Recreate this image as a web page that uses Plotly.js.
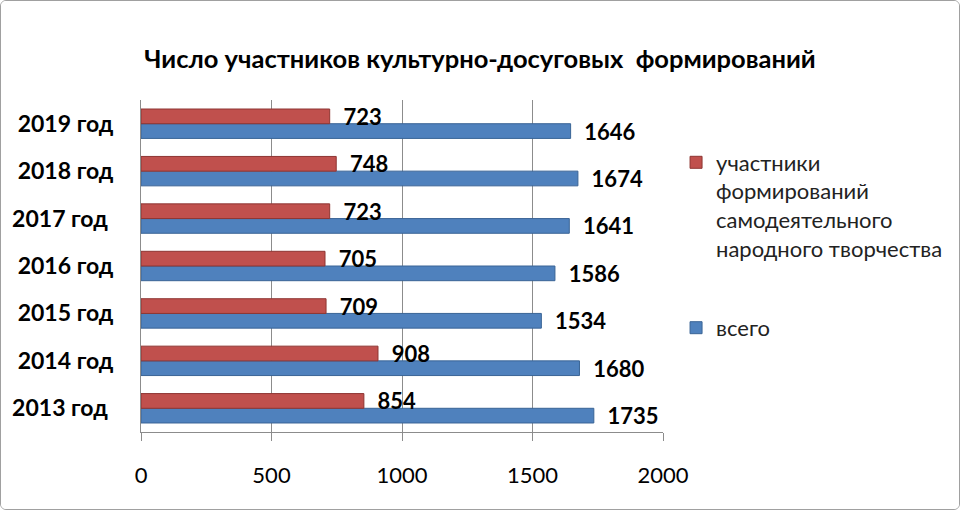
<!DOCTYPE html>
<html>
<head>
<meta charset="utf-8">
<script src="https://cdn.plot.ly/plotly-3.0.1.min.js"></script>
<style>
body { margin: 0; background: #fff; }
#chart { width: 960px; height: 510px; box-sizing: border-box; border: 1px solid #a0a0a0; border-radius: 6px; overflow: hidden; }
</style>
</head>
<body>
<div id="chart"></div>
<script>
var years = ['2013 год\u00a0', '2014 год', '2015 год', '2016 год', '2017 год\u00a0', '2018 год', '2019 год'];
var participants = [854, 908, 709, 705, 723, 748, 723];
var total = [1735, 1680, 1534, 1586, 1641, 1674, 1646];
var xTicks = [0, 500, 1000, 1500, 2000];

var font = 'Lato, "Open Sans", sans-serif';

var data = [
	{
		type: 'bar',
		orientation: 'h',
		name: 'всего',
		legendgroup: 'b',
		legendrank: 2,
		y: years,
		x: total,
		texttemplate: '\u00a0\u00a0%{x}',
		textposition: 'outside',
		constraintext: 'none',
		cliponaxis: false,
		textfont: {family: font, size: 22, color: '#000', weight: 'bold'},
		marker: {color: '#4F81BD', line: {color: '#3A6496', width: 1}}
	},
	{
		type: 'bar',
		orientation: 'h',
		name: 'участники<br>формирований<br>самодеятельного<br>народного творчества',
		legendgroup: 'a',
		legendrank: 1,
		y: years,
		x: participants,
		texttemplate: '\u00a0\u00a0%{x}',
		textposition: 'outside',
		constraintext: 'none',
		cliponaxis: false,
		textfont: {family: font, size: 22, color: '#000', weight: 'bold'},
		marker: {color: '#C0504D', line: {color: '#8E3532', width: 1}}
	}
];

var layout = {
	width: 958,
	height: 508,
	paper_bgcolor: '#fff',
	plot_bgcolor: '#fff',
	font: {family: font, size: 16, color: '#000'},
	title: {
		text: 'Число участников культурно-досуговых\u00a0 формирований',
		font: {family: font, size: 25.5, color: '#000', weight: 'bold'},
		x: 0.5,
		xanchor: 'center',
		y: 0.885,
		yanchor: 'middle'
	},
	barmode: 'group',
	bargap: 0.38,
	bargroupgap: 0,
	showlegend: true,
	legend: {
		traceorder: 'grouped',
		x: 1.025,
		xanchor: 'left',
		y: 0.875,
		yanchor: 'top',
		valign: 'top',
		font: {family: font, size: 22, color: '#222'},
		itemwidth: 30,
		tracegroupgap: 48
	},
	xaxis: {
		range: [0, 2000],
		tickvals: xTicks,
		showgrid: true,
		gridcolor: '#8c8c8c',
		gridwidth: 1,
		zeroline: false,
		showline: true,
		linecolor: '#8c8c8c',
		ticks: 'outside',
		ticklen: 8,
		tickcolor: '#8c8c8c',
		ticklabelstandoff: 16,
		tickfont: {family: font, size: 22, color: '#000'}
	},
	yaxis: {
		type: 'category',
		showgrid: false,
		showline: true,
		linecolor: '#8c8c8c',
		ticks: '',
		ticklabelstandoff: 22,
		tickfont: {family: font, size: 23, color: '#000', weight: 'bold'}
	},
	margin: {l: 140, r: 296, t: 99, b: 77, autoexpand: false}
};

Plotly.newPlot('chart', data, layout, {displayModeBar: false, staticPlot: true});
</script>
</body>
</html>
